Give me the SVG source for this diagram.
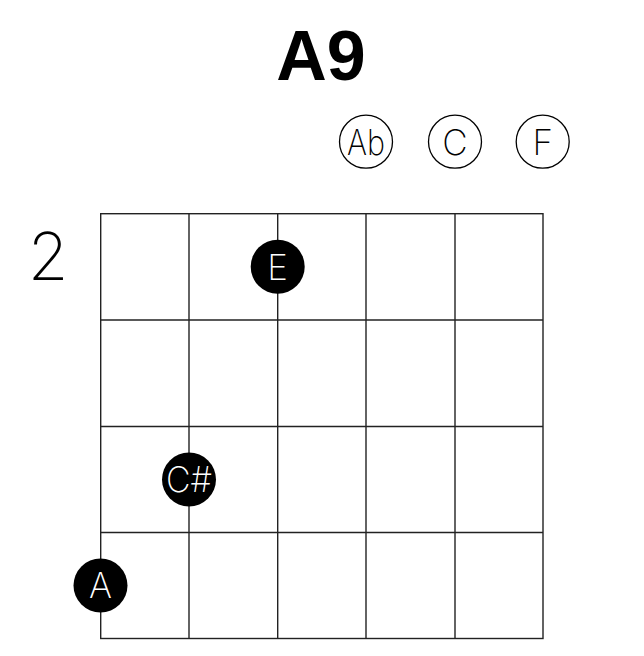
<svg xmlns="http://www.w3.org/2000/svg" width="644" height="656" viewBox="0 0 644 656">
<style>
.grid line{stroke:#222;stroke-width:1.4}
.grid rect{fill:none;stroke:#222;stroke-width:1.4}
.dot{fill:#000}
.open{fill:#fff;stroke:#000;stroke-width:1.3}
.lbl{font-family:Inter,"Liberation Sans",Arial,sans-serif;font-weight:200;font-size:35px;text-anchor:middle}
.w{fill:#fff}
.b{fill:#000}
</style>
<rect width="644" height="656" fill="#fff"/>
<text x="321" y="80" font-family="Liberation Sans,Arial,sans-serif" font-weight="bold" font-size="70" text-anchor="middle">A9</text>
<text x="48" y="280" font-family="Inter,Liberation Sans,Arial,sans-serif" font-weight="200" font-size="66" text-anchor="middle">2</text>
<g id="grid" class="grid">
<rect x="100.7" y="213.7" width="442.3" height="424.8"/>
<line x1="189" y1="213.7" x2="189" y2="638.5"/>
<line x1="277.7" y1="213.7" x2="277.7" y2="638.5"/>
<line x1="366" y1="213.7" x2="366" y2="638.5"/>
<line x1="455" y1="213.7" x2="455" y2="638.5"/>
<line x1="100.7" y1="320" x2="543" y2="320"/>
<line x1="100.7" y1="426.5" x2="543" y2="426.5"/>
<line x1="100.7" y1="532.5" x2="543" y2="532.5"/>
</g>
<g id="open-Ab"><circle class="open" cx="366" cy="141.7" r="26.5"/><text class="lbl b" x="366" y="154.5" textLength="38" lengthAdjust="spacingAndGlyphs">Ab</text></g>
<g id="open-C"><circle class="open" cx="455" cy="141.7" r="26.5"/><text class="lbl b" x="455" y="154.5">C</text></g>
<g id="open-F"><circle class="open" cx="542.7" cy="141.7" r="26.5"/><text class="lbl b" x="542.7" y="154.5">F</text></g>
<g id="dot-E"><circle class="dot" cx="277.7" cy="266.7" r="27"/><text class="lbl w" x="277.7" y="279.5">E</text></g>
<g id="dot-Cs"><circle class="dot" cx="189" cy="479.5" r="27"/><text class="lbl w" x="189" y="492" textLength="46" lengthAdjust="spacingAndGlyphs">C#</text></g>
<g id="dot-A"><circle class="dot" cx="100.5" cy="585.5" r="27"/><text class="lbl w" x="100.5" y="598">A</text></g>
</svg>
